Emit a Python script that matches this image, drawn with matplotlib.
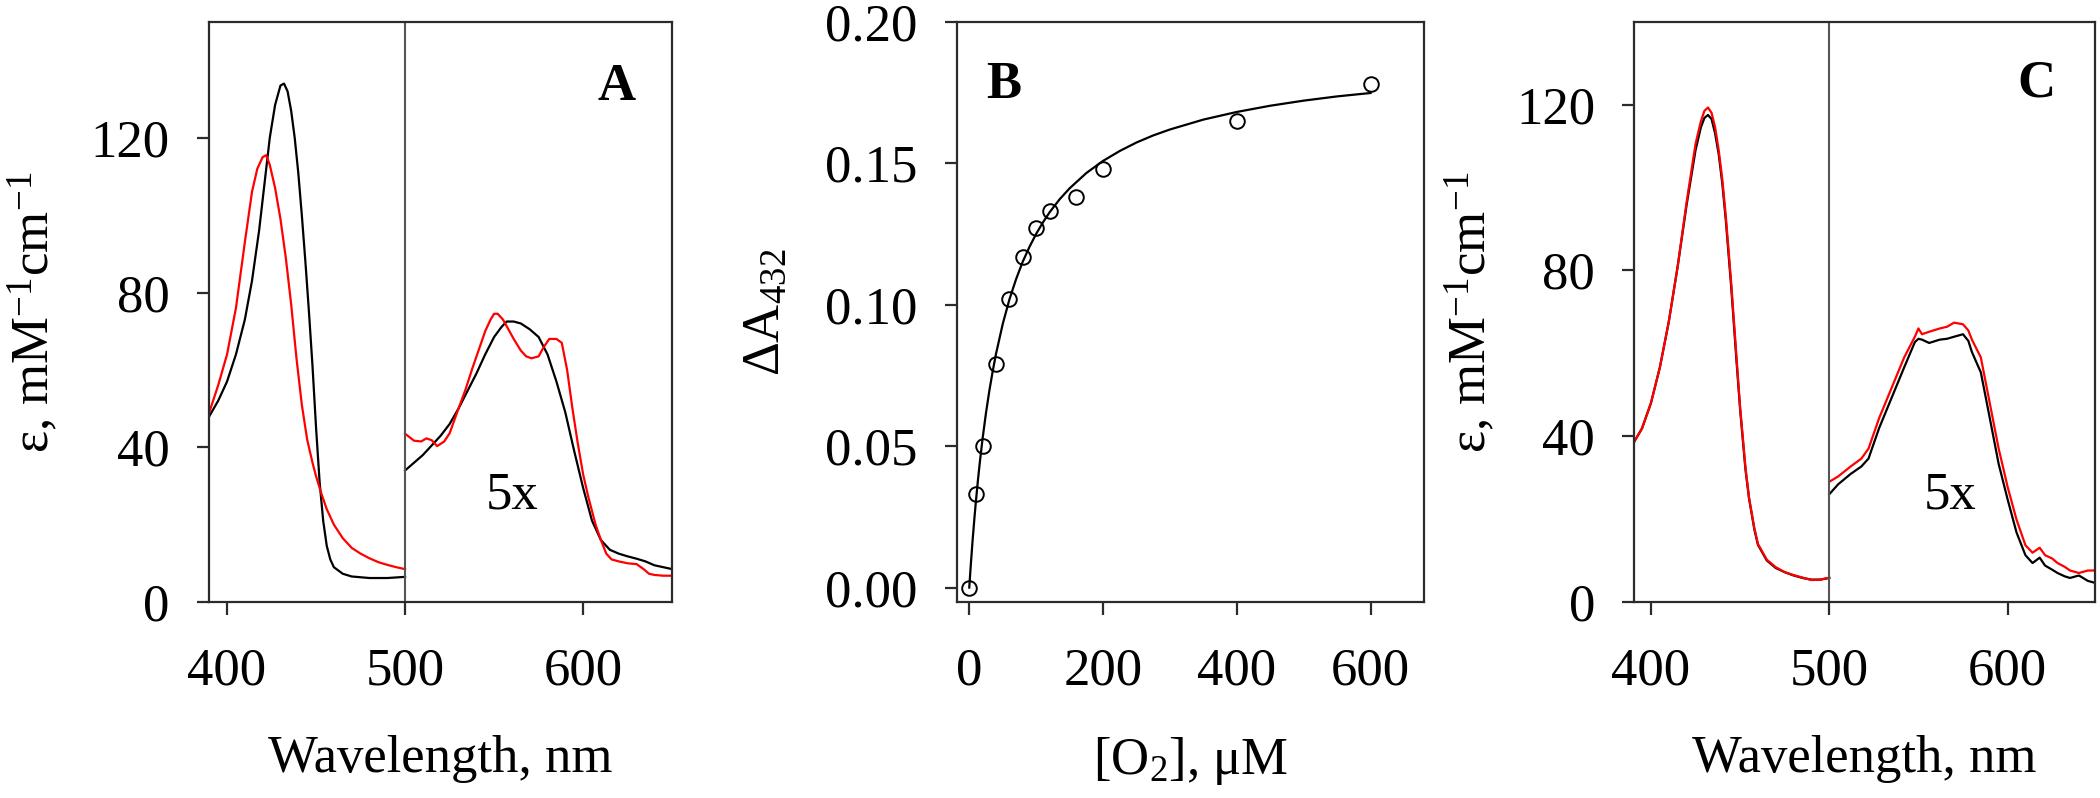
import matplotlib
matplotlib.use("Agg")
import matplotlib.pyplot as plt

plt.rcParams['font.family'] = ['Liberation Serif', 'DejaVu Serif']
plt.rcParams['mathtext.fontset'] = 'custom'
plt.rcParams['mathtext.rm'] = 'Liberation Serif'
plt.rcParams['mathtext.it'] = 'Liberation Serif:italic'
plt.rcParams['mathtext.bf'] = 'Liberation Serif:bold'

# Panel A - Soret region (no 5x)
a_soret_wl_black = [390, 395, 400, 405, 410, 414, 418, 421, 424, 427, 430, 432, 434, 436, 438,
                    440, 442, 444, 446, 448, 450, 452, 454, 456, 458, 460, 465, 470, 480, 490, 500]
a_soret_black = [48, 52, 57, 64, 73, 83, 96, 108, 120, 128.5, 133.5, 134, 132, 127, 120,
                 111, 100, 88, 75, 61, 45, 31, 21, 14.5, 11, 9, 7.3, 6.6, 6.2, 6.2, 6.5]
a_soret_wl_red = [390, 395, 400, 405, 410, 414, 417, 420, 422, 424, 427, 430, 433, 436, 439,
                  442, 445, 448, 450, 453, 456, 460, 465, 470, 475, 480, 485, 490, 495, 500]
a_soret_red = [49, 56, 64, 76, 93, 106, 112, 115, 115.5, 113, 107, 99, 89, 77, 63,
               51, 42, 36, 32.5, 28, 24, 20, 16.5, 14, 12.5, 11.3, 10.3, 9.6, 9, 8.5]

# Panel A - Q bands (5x)
a_q_wl_black = [500, 505, 510, 515, 520, 525, 530, 535, 540, 545, 550, 554, 557, 561, 565, 570,
                575, 580, 585, 590, 595, 600, 605, 610, 615, 620, 625, 630, 635, 640, 645, 650]
a_q_black = [34, 36, 38, 40.5, 43, 46, 50, 54.5, 59, 64, 68.5, 71, 72.5, 72.5, 72, 70.5,
             68.5, 64, 57, 49, 39, 29.5, 21, 16, 13.5, 12.5, 11.8, 11.2, 10.5, 9.5, 9, 8.5]
a_q_wl_red = [500, 505, 509, 512, 515, 518, 522, 525, 530, 534, 538, 542, 545, 548, 550, 552, 555,
              558, 561, 565, 568, 571, 575, 578, 581, 585, 588, 591, 594, 597, 600, 603, 607,
              610, 613, 616, 620, 625, 630, 634, 637, 640, 645, 650]
a_q_red = [43.5, 41.7, 41.5, 42.3, 41.8, 40.3, 41.5, 43.6, 50, 55, 60.7, 66, 70, 73, 74.5, 74.5, 73,
           70.5, 68, 65, 63.5, 63, 63.5, 66, 68, 68, 67, 60, 50, 41, 33, 27, 20,
           16, 12.5, 11, 10.5, 10, 9.8, 8.5, 7.3, 7, 6.8, 6.8]

# Panel B - titration points
o2_conc = [0, 10, 20, 40, 60, 80, 100, 120, 160, 200, 400, 600]
delta_a432 = [0.000, 0.033, 0.050, 0.079, 0.102, 0.117, 0.127, 0.133, 0.138, 0.148, 0.165, 0.178]
# fitted curve
fit_conc = [0, 2, 5, 8, 10, 13, 16, 20, 25, 30, 35, 40, 50, 60, 70, 80, 90, 100, 110, 120,
            135, 150, 175, 200, 225, 250, 275, 300, 350, 400, 450, 500, 550, 600]
fit_a432 = [0.000, 0.007, 0.0167, 0.0253, 0.0306, 0.038, 0.0447, 0.0528, 0.0617, 0.0695,
            0.0764, 0.0826, 0.0931, 0.1018, 0.109, 0.1152, 0.1204, 0.125, 0.129, 0.1326,
            0.1372, 0.1411, 0.1465, 0.1508, 0.1543, 0.1573, 0.1598, 0.1619, 0.1654, 0.1681,
            0.1703, 0.1721, 0.1736, 0.1748]

# Panel C - Soret region (black and red nearly identical)
c_soret_wl = [390, 395, 400, 405, 410, 415, 420, 425, 428, 430, 432, 434, 436, 438, 440, 442,
              445, 448, 450, 453, 455, 458, 460, 465, 470, 475, 480, 485, 490, 495, 500]
c_soret_black = [38.2, 41.9, 48, 56.6, 67.6, 81, 95.8, 109, 114.5, 116.8, 117.5, 116.5, 113, 108, 101, 92,
                 76, 58, 46.5, 32, 25, 17.5, 13.8, 10, 8.2, 7.2, 6.4, 5.8, 5.4, 5.4, 5.8]
c_soret_red = [38.2, 41.9, 48, 56.6, 67.6, 81, 96.5, 110.5, 116, 118.5, 119.3, 118, 114.5, 109, 102, 93,
               77, 59, 47, 32.5, 25.2, 17.8, 14, 10.2, 8.4, 7.2, 6.5, 5.9, 5.3, 5.4, 5.9]

# Panel C - Q bands (5x)
c_q_wl = [500, 505, 512, 518, 522, 528, 535, 542, 548, 550, 552, 556, 562, 566, 570, 575, 578,
          580, 585, 590, 595, 600, 605, 610, 614, 618, 621, 625, 628, 632, 635, 640, 645, 650]
c_q_black = [26, 28.4, 30.9, 32.7, 34.6, 42, 49.3, 56.6, 62.7, 63.5, 63.3, 62.5, 63.3, 63.5, 64, 64.6, 63,
             60.3, 55.4, 44.4, 33.3, 24.8, 16.8, 11.3, 9.4, 10.7, 8.8, 7.8, 7, 6.2, 5.8, 6.4, 5.1, 4.5]
c_q_red = [29, 30.3, 32.7, 34.6, 37, 44.4, 51.7, 59, 64, 66, 64.6, 65.2, 66, 66.4, 67.4, 67, 65.5,
           63.3, 59, 48, 37, 27.8, 19.9, 13.7, 11.9, 13.1, 11.3, 10.5, 9.4, 8.5, 7.6, 7, 7.6, 7.6]

tick_fs = 38
spine_color = '#2b2b2b'

fig = plt.figure(figsize=(21, 7.98), dpi=100)
bottom, height = 0.2456, 0.7272
axA = fig.add_axes([0.0993, bottom, 0.2206, height])
axB = fig.add_axes([0.4555, bottom, 0.2226, height])
axC = fig.add_axes([0.7781, bottom, 0.2195, height])


def style_axes(ax):
    for sp in ax.spines.values():
        sp.set_linewidth(1.6)
        sp.set_color(spine_color)
    ax.tick_params(direction='out', length=9, width=1.6, color=spine_color,
                   labelsize=tick_fs)
    ax.tick_params(axis='x', pad=24)
    ax.tick_params(axis='y', pad=19)


# Panel A
axA.plot(a_soret_wl_black, a_soret_black, color='black', lw=1.6)
axA.plot(a_soret_wl_red, a_soret_red, color='red', lw=1.6)
axA.plot(a_q_wl_black, a_q_black, color='black', lw=1.6)
axA.plot(a_q_wl_red, a_q_red, color='red', lw=1.6)
axA.axvline(500, color='#555555', lw=1.5)
axA.set_xlim(389.6, 649.8)
axA.set_ylim(0, 150)
axA.set_xticks([400, 500, 600])
axA.set_yticks([0, 40, 80, 120])
axA.text(619, 133, 'A', fontsize=38, fontweight='bold', ha='center', va='center')
axA.text(560, 27.5, '5x', fontsize=38, ha='center', va='center')
axA.set_xlabel('Wavelength, nm', fontsize=tick_fs)
axA.set_ylabel(r'ε, mM$^{\mathrm{-1}}$cm$^{\mathrm{-1}}$', fontsize=tick_fs)
axA.xaxis.set_label_coords(0.5, -0.229)
axA.yaxis.set_label_coords(-0.32, 0.5)
style_axes(axA)

# Panel B
axB.plot(fit_conc, fit_a432, color='black', lw=1.6)
axB.plot(o2_conc, delta_a432, 'o', mfc='none', mec='black', ms=10.5, mew=1.4)
axB.set_xlim(-19, 680)
axB.set_ylim(-0.0051, 0.20)
axB.set_xticks([0, 200, 400, 600])
axB.set_yticks([0.00, 0.05, 0.10, 0.15, 0.20])
axB.set_yticklabels(['0.00', '0.05', '0.10', '0.15', '0.20'])
axB.text(51, 0.1776, 'B', fontsize=38, fontweight='bold', ha='center', va='center')
axB.set_xlabel(r'[O$_{\mathrm{2}}$], μM', fontsize=tick_fs)
axB.set_ylabel(r'ΔA$_{\mathrm{432}}$', fontsize=tick_fs)
axB.xaxis.set_label_coords(0.5, -0.229)
axB.yaxis.set_label_coords(-0.356, 0.5)
style_axes(axB)

# Panel C
axC.plot(c_soret_wl, c_soret_black, color='black', lw=1.6)
axC.plot(c_soret_wl, c_soret_red, color='red', lw=1.6)
axC.plot(c_q_wl, c_q_black, color='black', lw=1.6)
axC.plot(c_q_wl, c_q_red, color='red', lw=1.6)
axC.axvline(500, color='#555555', lw=1.5)
axC.set_xlim(390.5, 649)
axC.set_ylim(0, 140)
axC.set_xticks([400, 500, 600])
axC.set_yticks([0, 40, 80, 120])
axC.text(616, 125, 'C', fontsize=38, fontweight='bold', ha='center', va='center')
axC.text(568, 25.7, '5x', fontsize=38, ha='center', va='center')
axC.set_xlabel('Wavelength, nm', fontsize=tick_fs)
axC.set_ylabel(r'ε, mM$^{\mathrm{-1}}$cm$^{\mathrm{-1}}$', fontsize=tick_fs)
axC.xaxis.set_label_coords(0.5, -0.229)
axC.yaxis.set_label_coords(-0.297, 0.5)
style_axes(axC)

fig.savefig('out.png', dpi=100)
